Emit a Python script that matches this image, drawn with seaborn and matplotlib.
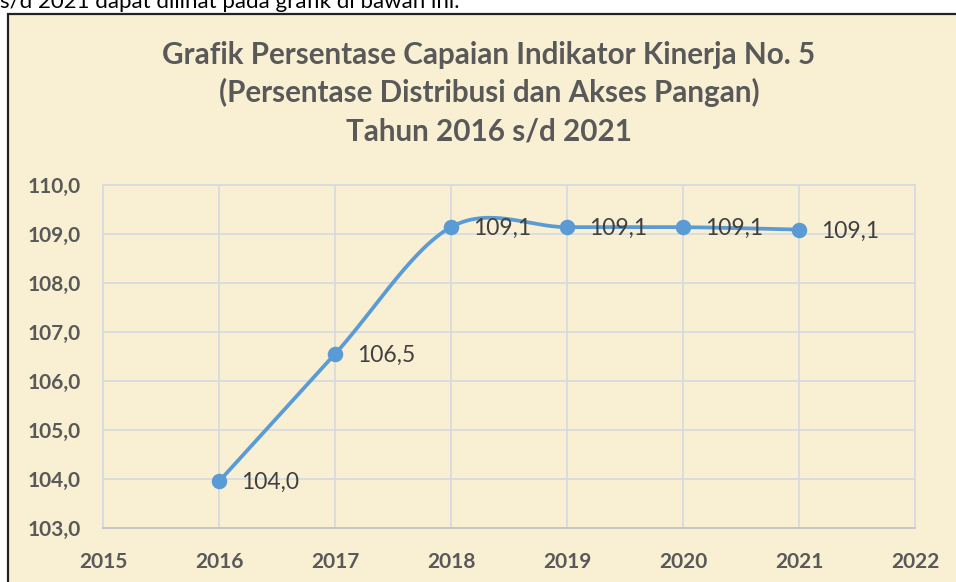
import numpy as np
import pandas as pd
import matplotlib
matplotlib.use("Agg")
import matplotlib.pyplot as plt
import seaborn as sns
from matplotlib.patches import Rectangle

# data
tahun = [2016, 2017, 2018, 2019, 2020, 2021]
capaian = [103.95, 106.55, 109.14, 109.14, 109.14, 109.09]
label_capaian = ["104,0", "106,5", "109,1", "109,1", "109,1", "109,1"]
x_ticks = [2015, 2016, 2017, 2018, 2019, 2020, 2021, 2022]
y_ticks = [103, 104, 105, 106, 107, 108, 109, 110]
judul = ["Grafik Persentase Capaian Indikator Kinerja No. 5",
         "(Persentase Distribusi dan Akses Pangan)",
         "Tahun 2016 s/d 2021"]
teks_atas = "s/d 2021 dapat dilihat pada grafik di bawah ini."

sns.set_theme(style="white")
plt.rcParams["font.family"] = ["Lato", "DejaVu Sans"]

W, H = 956, 582
bg = "#F9EFD3"
grey = "#595959"
blue = "#5B9BD5"
grid = "#D8DAE0"


def fy(py):
    return 1 - py / H


# Excel-style smoothed line (bezier with 1/6 neighbour tangents)
def smooth(x, y, n=40):
    x = np.asarray(x, float)
    y = np.asarray(y, float)
    px = np.concatenate([[x[0]], x, [x[-1]]])
    py = np.concatenate([[y[0]], y, [y[-1]]])
    xs, ys = [], []
    t = np.linspace(0, 1, n)
    for i in range(1, len(px) - 2):
        p0 = np.array([px[i], py[i]])
        p3 = np.array([px[i + 1], py[i + 1]])
        p1 = p0 + (np.array([px[i + 1], py[i + 1]]) - np.array([px[i - 1], py[i - 1]])) / 6
        p2 = p3 - (np.array([px[i + 2], py[i + 2]]) - np.array([px[i], py[i]])) / 6
        b = ((1 - t) ** 3)[:, None] * p0 + (3 * (1 - t) ** 2 * t)[:, None] * p1 \
            + (3 * (1 - t) * t ** 2)[:, None] * p2 + (t ** 3)[:, None] * p3
        xs.extend(b[:, 0])
        ys.extend(b[:, 1])
    return pd.DataFrame({"x": xs, "y": ys})


fig = plt.figure(figsize=(W / 100, H / 100), dpi=100)
fig.patch.set_facecolor("white")

# chart area box
fig.patches.append(Rectangle((8 / W, -0.05), 1.2, fy(14) + 0.05,
                             transform=fig.transFigure, facecolor=bg,
                             edgecolor="#222222", lw=1.6, zorder=-5))

fig.text(0, fy(8), teks_atas, ha="left", va="baseline", fontsize=16, color="black")
for baris, base in zip(judul, [64, 102, 140]):
    fig.text(489 / W, fy(base), baris, ha="center", va="baseline", fontsize=21.3,
             fontweight="bold", color=grey)

ax = fig.add_axes([103 / W, fy(528), (915 - 103) / W, (528 - 185) / H])
ax.set_facecolor("none")
ax.set_zorder(2)

curve = smooth(tahun, capaian)
sns.lineplot(data=curve, x="x", y="y", sort=False, ax=ax, color=blue, lw=2.7,
             estimator=None, zorder=3)
sns.scatterplot(x=tahun, y=capaian, ax=ax, color=blue, s=125, edgecolor=blue,
                linewidth=0, zorder=4)

for xv, yv, lab in zip(tahun, capaian, label_capaian):
    ax.annotate(lab, (xv, yv), xytext=(16, -1), textcoords="offset points",
                ha="left", va="center", fontsize=16.5, color="#404040", zorder=5)

ax.set_xlim(x_ticks[0], x_ticks[-1])
ax.set_ylim(y_ticks[0], y_ticks[-1])
ax.set_xticks(x_ticks)
ax.set_yticks(y_ticks)
ax.set_xticklabels([str(v) for v in x_ticks])
ax.set_yticklabels([f"{v:.1f}".replace(".", ",") for v in y_ticks])
ax.grid(True, color=grid, lw=1.3)
ax.set_axisbelow(True)
for side, sp in ax.spines.items():
    sp.set_color(grid)
    sp.set_linewidth(1.3)
ax.spines["bottom"].set_color("#C4C4C4")
ax.tick_params(axis="x", length=0, pad=17, labelsize=15, labelcolor=grey)
ax.tick_params(axis="y", length=0, pad=16, labelsize=15, labelcolor=grey)
for lab in ax.get_xticklabels() + ax.get_yticklabels():
    lab.set_fontweight("bold")
ax.set_xlabel("")
ax.set_ylabel("")

fig.savefig("out.png", dpi=100, facecolor=fig.get_facecolor())
